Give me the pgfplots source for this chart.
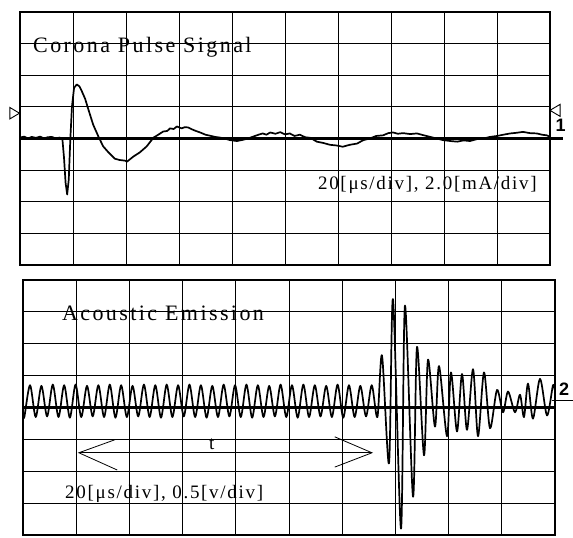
\documentclass[border=0pt]{standalone}
\usepackage{pgfplots}
\pgfplotsset{compat=1.18}
\usepackage{fontspec}
\setmainfont{Liberation Serif}
\newfontfamily\spacedtitle{Liberation Serif}[LetterSpace=11]
\newfontfamily\spacedlabel{Liberation Serif}[LetterSpace=9]
\newfontfamily\chfont{Liberation Sans}

\pgfplotsset{
  scope/.style={
    scale only axis, anchor=south west,
    xmin=0, xmax=10, ymin=-4, ymax=4,
    xtick={0,...,10}, ytick={-4,...,4},
    xticklabels={}, yticklabels={},
    major tick length=0pt,
    grid=major,
    major grid style={black, line width=1pt},
    axis line style={black, line width=1.5pt},
    clip=false,
  },
  trace/.style={black, line width=1.7pt, line join=round},
}

\begin{document}
\begin{tikzpicture}
\path[use as bounding box] (0pt,0pt) rectangle (573pt,538pt);

% channel 1: corona pulse
\begin{axis}[scope, at={(20pt,273pt)}, width=530pt, height=253pt]
\addplot[black, line width=2.2pt] coordinates {(0,0) (10.25,0)};
\addplot[trace] coordinates {
 (0.00,0.03) (0.08,0.06) (0.15,0.00) (0.22,0.05) (0.30,0.02) (0.38,0.06)
 (0.45,0.00) (0.52,0.04) (0.60,0.05) (0.68,0.00) (0.75,0.03) (0.80,-0.02)
 (0.83,-0.60) (0.86,-1.40) (0.89,-1.77) (0.92,-1.30) (0.95,0.00) (0.98,1.00)
 (1.02,1.60) (1.07,1.71) (1.12,1.65) (1.16,1.52) (1.23,1.25) (1.29,0.92)
 (1.38,0.44) (1.48,0.06) (1.57,-0.25) (1.67,-0.44) (1.79,-0.64) (1.88,-0.68)
 (1.98,-0.70) (2.02,-0.73) (2.14,-0.57) (2.26,-0.44) (2.39,-0.25) (2.52,0.03)
 (2.61,0.12) (2.70,0.22) (2.78,0.24) (2.83,0.32) (2.90,0.30) (2.96,0.38)
 (3.05,0.32) (3.11,0.36) (3.17,0.35) (3.23,0.30) (3.30,0.25) (3.40,0.19)
 (3.50,0.12) (3.58,0.09) (3.68,0.05) (3.77,0.03) (3.86,0.00) (3.96,-0.05)
 (4.09,-0.08) (4.21,-0.04) (4.30,0.00) (4.40,0.06) (4.50,0.12) (4.58,0.16)
 (4.65,0.12) (4.72,0.19) (4.82,0.15) (4.91,0.20) (5.00,0.13) (5.09,0.16)
 (5.18,0.08) (5.28,0.12) (5.38,0.04) (5.48,0.02) (5.60,-0.10) (5.72,-0.14)
 (5.85,-0.20) (5.97,-0.22) (6.09,-0.26) (6.22,-0.20) (6.36,-0.16) (6.48,-0.05)
 (6.60,0.00) (6.72,0.08) (6.85,0.10) (6.95,0.17) (7.04,0.19) (7.13,0.15)
 (7.23,0.17) (7.36,0.14) (7.49,0.16) (7.62,0.10) (7.74,0.05) (7.86,0.00)
 (7.98,-0.05) (8.12,-0.08) (8.25,-0.10) (8.37,-0.06) (8.49,-0.08) (8.62,-0.02)
 (8.74,0.00) (8.87,0.05) (9.00,0.08) (9.12,0.12) (9.25,0.16) (9.37,0.18)
 (9.49,0.21) (9.62,0.17) (9.75,0.16) (9.85,0.12) (9.94,0.10) (10.00,0.05)
};
\node[anchor=west, inner sep=0pt, font=\spacedtitle\fontsize{22}{22}\selectfont]
  at (axis cs:0.245,2.9) {Corona Pulse Signal};
\node[anchor=west, inner sep=0pt, font=\spacedlabel\fontsize{19}{19}\selectfont]
  at (axis cs:5.62,-1.46) {20[μs/div], 2.0[mA/div]};
% channel markers
\draw[black, line width=0.9pt] (axis cs:-0.19,0.98) -- (axis cs:-0.01,0.80) -- (axis cs:-0.19,0.62) -- cycle;
\draw[black, line width=0.9pt] (axis cs:10.19,1.08) -- (axis cs:10.0,0.89) -- (axis cs:10.19,0.70) -- cycle;
\node[inner sep=0pt, font=\chfont\bfseries\fontsize{18}{18}\selectfont] at (axis cs:10.2,0.42) {1};
\end{axis}

% channel 2: acoustic emission
\begin{axis}[scope, at={(23pt,3pt)}, width=532pt, height=255pt]
\addplot[black, line width=2.2pt] coordinates {(0,0) (10,0)};
\addplot[trace, smooth] coordinates {
 (0.000,-0.20) (0.025,-0.30)
 (0.132,0.70) (0.239,-0.30) (0.346,0.68) (0.453,-0.28) (0.560,0.72) (0.667,-0.30)
 (0.774,0.70) (0.881,-0.32) (0.988,0.72) (1.095,-0.30) (1.203,0.68) (1.310,-0.28)
 (1.417,0.70) (1.524,-0.30) (1.631,0.72) (1.738,-0.32) (1.845,0.70) (1.952,-0.30)
 (2.059,0.68) (2.166,-0.28) (2.273,0.72) (2.380,-0.30) (2.487,0.70) (2.594,-0.32)
 (2.701,0.72) (2.808,-0.30) (2.915,0.70) (3.022,-0.28) (3.129,0.72) (3.236,-0.30)
 (3.344,0.70) (3.451,-0.32) (3.558,0.68) (3.665,-0.30) (3.772,0.72) (3.879,-0.28)
 (3.986,0.70) (4.093,-0.30) (4.200,0.72) (4.307,-0.32) (4.414,0.70) (4.521,-0.30)
 (4.628,0.68) (4.735,-0.28) (4.842,0.72) (4.949,-0.30) (5.056,0.70) (5.163,-0.32)
 (5.270,0.72) (5.377,-0.30) (5.485,0.70) (5.592,-0.28) (5.699,0.68) (5.806,-0.30)
 (5.913,0.72) (6.020,-0.32) (6.127,0.70) (6.234,-0.30) (6.341,0.68) (6.448,-0.28)
 (6.555,0.70) (6.662,-0.30)
 (6.748,1.63) (6.880,-1.75) (6.955,3.40) (7.105,-3.80) (7.180,3.20) (7.331,-2.80)
 (7.406,1.90) (7.538,-1.50) (7.613,1.50) (7.744,-0.60) (7.820,1.30) (7.970,-0.90)
 (8.045,1.10) (8.158,-0.75) (8.252,1.05) (8.346,-0.70) (8.459,1.20) (8.553,-0.90)
 (8.665,1.10) (8.778,-0.65) (8.910,0.55) (9.023,-0.15) (9.117,0.50) (9.248,-0.15)
 (9.342,0.40) (9.417,-0.30) (9.492,0.75) (9.586,-0.35) (9.718,0.90) (9.850,-0.25)
 (9.962,0.70) (10.000,0.50)
};
\node[anchor=west, inner sep=0pt, font=\spacedtitle\fontsize{22}{22}\selectfont]
  at (axis cs:0.73,2.94) {Acoustic Emission};
\node[anchor=west, inner sep=0pt, font=\spacedlabel\fontsize{19}{19}\selectfont]
  at (axis cs:0.79,-2.72) {20[μs/div], 0.5[v/div]};
\node[inner sep=0pt, font=\fontsize{19}{19}\selectfont] at (axis cs:3.55,-1.14) {t};
% time arrow
\draw[black, line width=0.8pt] (axis cs:1.05,-1.42) -- (axis cs:6.56,-1.42);
\draw[black, line width=0.8pt] (axis cs:1.73,-1.01) -- (axis cs:1.05,-1.42) -- (axis cs:1.77,-1.96);
\draw[black, line width=0.8pt] (axis cs:5.86,-0.92) -- (axis cs:6.56,-1.42) -- (axis cs:5.86,-1.87);
% channel marker
\draw[black, line width=1.4pt] (axis cs:9.94,0.22) -- (axis cs:10.34,0.22);
\node[inner sep=0pt, font=\chfont\bfseries\fontsize{18}{18}\selectfont] at (axis cs:10.17,0.56) {2};
\end{axis}
\end{tikzpicture}
\end{document}
